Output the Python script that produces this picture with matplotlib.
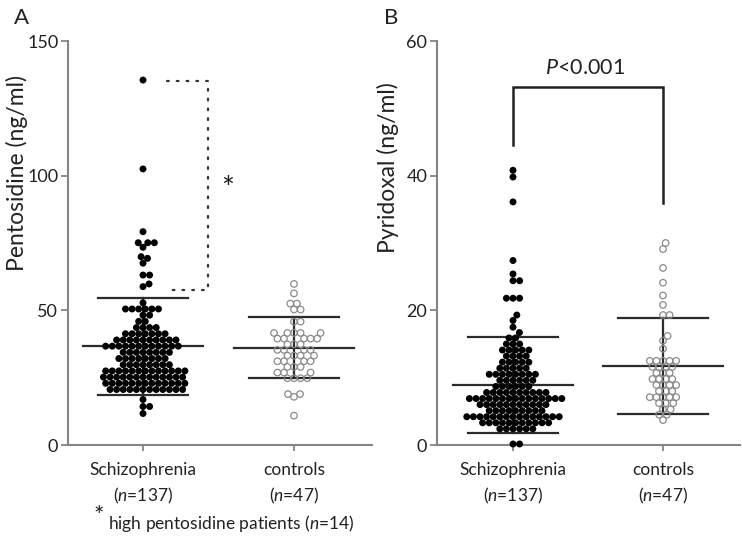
import numpy as np
import matplotlib
matplotlib.use('Agg')
import matplotlib.pyplot as plt

plt.rcParams['font.family'] = ['Lato', 'DejaVu Sans']
plt.rcParams['mathtext.fontset'] = 'custom'
plt.rcParams['mathtext.it'] = 'Lato:italic'
plt.rcParams['mathtext.rm'] = 'Lato'

# ---------------- data ----------------
groups = ['Schizophrenia', 'controls']
group_n = [137, 47]

pento_schizo = [
    135.5, 102.5, 79.2, 75.1, 75.1, 75.1, 73.4, 69.9, 69.3, 67.5, 63.1, 63.1, 59.8, 58.8,
    52.8,
    50.5, 50.5, 50.5, 50.5, 50.5, 50.5,
    48.2, 48.2,
    45.9, 45.9,
    43.6, 43.6, 43.6, 43.6,
    41.3, 41.3, 41.3, 41.3, 41.3, 41.3, 41.3,
    39.0, 39.0, 39.0, 39.0, 39.0, 39.0, 39.0, 39.0, 39.0, 39.0,
    36.7, 36.7, 36.7, 36.7, 36.7, 36.7, 36.7, 36.7, 36.7, 36.7, 36.7, 36.7,
    34.4, 34.4, 34.4, 34.4, 34.4, 34.4, 34.4, 34.4,
    32.1, 32.1, 32.1, 32.1, 32.1, 32.1, 32.1, 32.1,
    29.8, 29.8, 29.8, 29.8, 29.8, 29.8, 29.8, 29.8,
    27.5, 27.5, 27.5, 27.5, 27.5, 27.5, 27.5, 27.5, 27.5, 27.5, 27.5, 27.5, 27.5,
    25.2, 25.2, 25.2, 25.2, 25.2, 25.2, 25.2, 25.2, 25.2, 25.2, 25.2, 25.2, 25.2,
    22.9, 22.9, 22.9, 22.9, 22.9, 22.9, 22.9, 22.9, 22.9, 22.9, 22.9, 22.9, 22.9,
    20.6, 20.6, 20.6, 20.6, 20.6, 20.6, 20.6, 20.6, 20.6, 20.6, 20.6, 20.6,
    16.9, 14.3, 14.3, 11.7,
]
pento_controls = [
    59.8, 56.3, 52.5, 52.5, 50.3, 50.3, 45.8, 45.8,
    41.6, 41.6, 41.6, 41.6, 41.6,
    39.5, 39.5, 39.5, 39.5, 39.5,
    37.4, 37.4, 37.4,
    35.3, 35.3, 35.3, 35.3,
    33.2, 33.2, 33.2, 33.2,
    31.1, 31.1, 31.1, 31.1,
    29.0, 29.0, 29.0,
    26.9, 26.9, 26.9,
    24.8, 24.8, 24.8, 24.8,
    18.9, 18.9, 17.9, 10.9,
]
pyri_schizo = [
    40.8, 39.8, 36.1, 27.4, 25.4, 24.4, 24.4, 21.8, 21.8, 21.8, 19.3, 18.5, 17.5, 16.7,
    15.9, 15.9,
    15.0, 15.0, 15.0,
    14.1, 14.1, 14.1, 14.1, 14.1,
    13.2, 13.2, 13.2, 13.2,
    12.3, 12.3, 12.3, 12.3, 12.3,
    11.4, 11.4, 11.4, 11.4, 11.4,
    10.5, 10.5, 10.5, 10.5, 10.5, 10.5, 10.5, 10.5,
    9.6, 9.6, 9.6, 9.6, 9.6, 9.6,
    8.7, 8.7, 8.7, 8.7, 8.7, 8.7,
    7.8, 7.8, 7.8, 7.8, 7.8, 7.8, 7.8, 7.8, 7.8, 7.8,
    6.9, 6.9, 6.9, 6.9, 6.9, 6.9, 6.9, 6.9, 6.9, 6.9, 6.9, 6.9, 6.9, 6.9, 6.9,
    6.0, 6.0, 6.0, 6.0, 6.0, 6.0, 6.0, 6.0, 6.0, 6.0, 6.0,
    5.1, 5.1, 5.1, 5.1, 5.1, 5.1, 5.1, 5.1, 5.1,
    4.2, 4.2, 4.2, 4.2, 4.2, 4.2, 4.2, 4.2, 4.2, 4.2, 4.2, 4.2, 4.2, 4.2, 4.2,
    3.3, 3.3, 3.3, 3.3, 3.3, 3.3, 3.3, 3.3, 3.3, 3.3, 3.3,
    2.4, 2.4, 2.4, 2.4, 2.4, 2.4,
    0.15, 0.15,
]
pyri_controls = [
    30.0, 29.1, 26.3, 24.1, 22.2, 20.8, 19.3, 19.3, 16.2, 15.5, 14.3,
    12.5, 12.5, 12.5, 12.5, 12.5,
    11.6, 11.6, 11.6, 11.6,
    10.7, 10.7, 10.7,
    9.8, 9.8, 9.8, 9.8,
    8.9, 8.9, 8.9, 8.9,
    8.0, 8.0, 8.0,
    7.1, 7.1, 7.1, 7.1, 7.1,
    6.2, 6.2, 6.2,
    5.3, 5.3,
    4.5, 4.5,
    3.7,
]
# mean and SD
pento_mean = [36.6, 36.1]
pento_sd = [17.9, 11.3]
pyri_mean = [8.9, 11.7]
pyri_sd = [7.1, 7.1]

pento_ticks = [0, 50, 100, 150]
pyri_ticks = [0, 20, 40, 60]

# ---------------- figure ----------------
W, H = 742, 547
fig = plt.figure(figsize=(W / 100, H / 100), dpi=100)

axA = fig.add_axes([68 / W, 1 - 445 / H, (372 - 68) / W, 404 / H])
axB = fig.add_axes([437 / W, 1 - 445 / H, (740 - 437) / W, 404 / H])

SPINE = '#858585'
LINE = '#2b2b2b'
D_PX = 6.6


def swarm(vals, px_per_unit, d):
    ys = np.asarray(vals, float) * px_per_unit
    order = np.argsort(ys, kind='stable')
    placed = []
    xs = np.zeros(len(ys))
    for i in order:
        y = ys[i]
        near = [(px, py) for px, py in placed if abs(py - y) < d]
        cands = [0.0]
        for px, py in near:
            dx = np.sqrt(max(d * d - (py - y) ** 2, 0.0))
            cands += [px + dx, px - dx]
        cands.sort(key=lambda c: (round(abs(c), 6), -c))
        for c in cands:
            if all((c - px) ** 2 + (y - py) ** 2 >= d * d - 1e-6 for px, py in near):
                xs[i] = c
                break
        placed.append((xs[i], y))
    return xs


def setup(ax, ymax, ticks, xlim):
    ax.set_ylim(0, ymax)
    ax.set_xlim(*xlim)
    for s in ['top', 'right']:
        ax.spines[s].set_visible(False)
    for s in ['left', 'bottom']:
        ax.spines[s].set_color(SPINE)
        ax.spines[s].set_linewidth(1.5)
    ax.set_yticks(ticks)
    ax.set_yticklabels([str(t) for t in ticks])
    ax.tick_params(axis='y', length=5, width=1.3, color=SPINE, labelsize=13,
                   labelcolor='#222222', pad=2)
    ax.set_xticks([0, 1])
    ax.set_xticklabels([f'{groups[0]}\n($n$={group_n[0]})',
                        f'{groups[1]}\n($n$={group_n[1]})'],
                       linespacing=1.55)
    ax.tick_params(axis='x', length=4, width=1.3, color=SPINE, labelsize=12.5,
                   labelcolor='#222222', pad=8)
    ax.patch.set_alpha(0)


def draw_group(ax, vals, xpos, mean, sd, filled, ymax, xlim):
    bb = ax.get_position()
    px_y = bb.height * H / ymax
    px_x = bb.width * W / (xlim[1] - xlim[0])
    off = swarm(vals, px_y, D_PX) / px_x
    # mean / SD lines
    ax.plot([xpos - 0.40, xpos + 0.40], [mean, mean], color=LINE, lw=1.6, zorder=1)
    ax.plot([xpos - 0.30, xpos + 0.30], [mean + sd, mean + sd], color=LINE, lw=1.6, zorder=1)
    ax.plot([xpos - 0.30, xpos + 0.30], [mean - sd, mean - sd], color=LINE, lw=1.6, zorder=1)
    ax.plot([xpos, xpos], [mean - sd, mean + sd], color=LINE, lw=1.6, zorder=1)
    if filled:
        ax.scatter(xpos + off, vals, s=25, color='black', edgecolors='none',
                   zorder=3, clip_on=False)
    else:
        ax.scatter(xpos + off, vals, s=22, facecolors='none', edgecolors='#8a8a8a',
                   linewidths=0.9, zorder=3, clip_on=False)


xlimA = (-75 / 151, 1 + 78 / 151)
xlimB = (-76 / 150, 1 + 77 / 150)
setup(axA, 150, pento_ticks, xlimA)
setup(axB, 60, pyri_ticks, xlimB)

draw_group(axA, pento_schizo, 0, pento_mean[0], pento_sd[0], True, 150, xlimA)
draw_group(axA, pento_controls, 1, pento_mean[1], pento_sd[1], False, 150, xlimA)
draw_group(axB, pyri_schizo, 0, pyri_mean[0], pyri_sd[0], True, 60, xlimB)
draw_group(axB, pyri_controls, 1, pyri_mean[1], pyri_sd[1], False, 60, xlimB)

# Panel A dotted bracket and asterisk
axA.plot([0.16, 0.43, 0.43, 0.19], [135.3, 135.3, 57.6, 57.6], color='#333333',
         lw=1.6, linestyle=(0, (0.8, 3.6)), dash_capstyle='round', zorder=2)
axA.text(0.56, 95, '*', fontsize=22, ha='center', va='center', color='#222222')

# Panel B significance bracket
axB.plot([0, 0, 1, 1], [44.6, 53.2, 53.2, 36.0], color='#222222', lw=1.8, zorder=2,
         solid_joinstyle='miter')
axB.text(0.48, 56.0, '$P$<0.001', fontsize=15.5, ha='center', va='center', color='#222222')

# y labels
fig.text(17 / W, 1 - 173 / H, 'Pentosidine (ng/ml)', rotation=90, fontsize=16.5,
         ha='center', va='center', color='#222222')
fig.text(388 / W, 1 - 168 / H, 'Pyridoxal (ng/ml)', rotation=90, fontsize=16.5,
         ha='center', va='center', color='#222222')

# panel letters
fig.text(21 / W, 1 - 18 / H, 'A', fontsize=16, ha='center', va='center', color='#222222')
fig.text(391 / W, 1 - 18 / H, 'B', fontsize=16, ha='center', va='center', color='#222222')

# footnote
fig.text(99 / W, 1 - 505 / H, '*', fontsize=18, ha='center', va='top', color='#222222')
fig.text(108 / W, 1 - 524 / H, 'high pentosidine patients ($n$=14)', fontsize=12.5,
         ha='left', va='center', color='#222222')

fig.savefig('out.png', dpi=100)
